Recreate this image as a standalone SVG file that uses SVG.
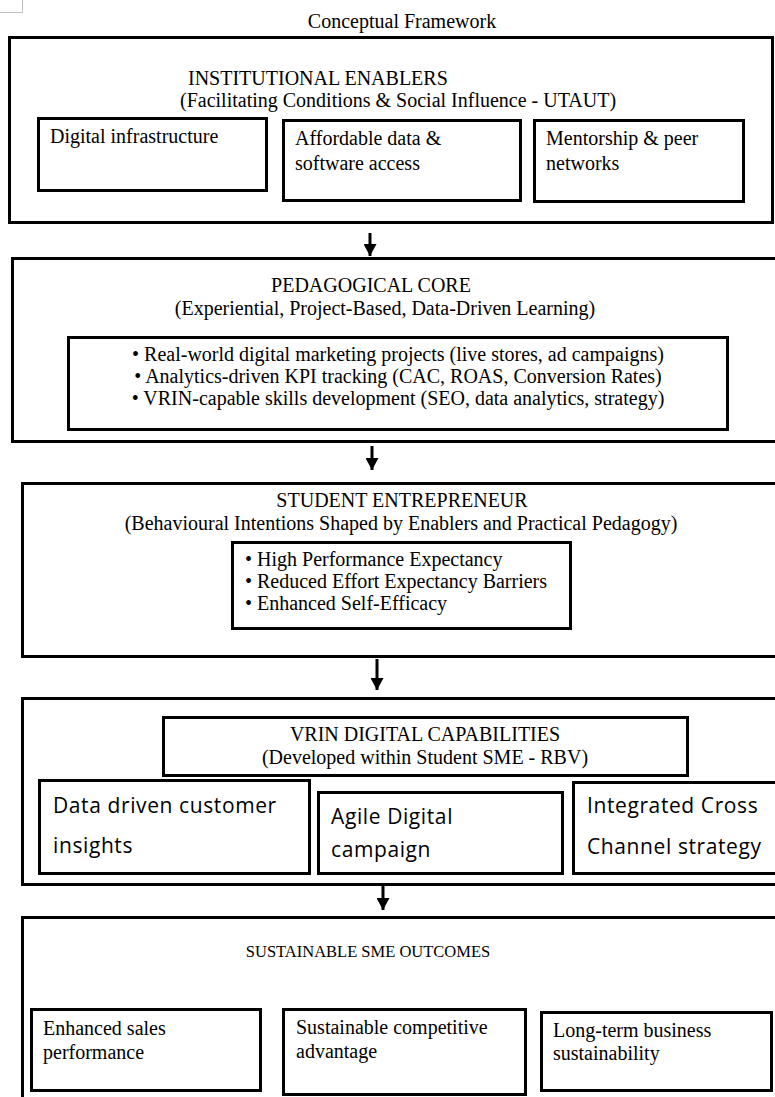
<svg xmlns="http://www.w3.org/2000/svg" width="775" height="1097" viewBox="0 0 775 1097">
  <defs>
    <style>
      .box { fill: #ffffff; stroke: #000000; stroke-width: 3; }
      .t { font-family: "Liberation Serif", "Times New Roman", serif; font-size: 20px; fill: #000000; }
      .tc { text-anchor: middle; }
      .small { font-size: 16.5px; }
      .hand { font-family: "Segoe Print", "Comic Sans MS", "Open Sans", sans-serif; font-size: 21px; letter-spacing: 0.6px; fill: #000000; }
      .conn { stroke: #000000; stroke-width: 3; fill: none; }
      .crop { stroke: #bdbdbd; stroke-width: 1; fill: none; }
    </style>
    <marker id="arrow" markerUnits="userSpaceOnUse" markerWidth="14" markerHeight="13" refX="12" refY="6.5" orient="auto">
      <path d="M0,0 L12,6.5 L0,13 Z" fill="#000000"/>
    </marker>
  </defs>

  <rect x="0" y="0" width="775" height="1097" fill="#ffffff"/>
  <path class="crop" d="M0,12.5 H22.5 V0"/>

  <g id="title">
    <text class="t tc" x="402" y="28">Conceptual Framework</text>
  </g>

  <!-- Institutional enablers -->
  <g id="node-institutional-enablers">
    <rect class="box" x="9.5" y="37.5" width="763" height="185"/>
    <text class="t" x="188" y="85">INSTITUTIONAL ENABLERS</text>
    <text class="t" x="180" y="107">(Facilitating Conditions &amp; Social Influence - UTAUT)</text>
  </g>
  <g id="node-digital-infrastructure">
    <rect class="box" x="38.5" y="118.5" width="228" height="72"/>
    <text class="t" x="50" y="143">Digital infrastructure</text>
  </g>
  <g id="node-affordable-data">
    <rect class="box" x="283.5" y="120.5" width="237" height="80"/>
    <text class="t" x="295" y="145">Affordable data &amp;</text>
    <text class="t" x="295" y="170">software access</text>
  </g>
  <g id="node-mentorship">
    <rect class="box" x="534.5" y="120.5" width="209" height="81"/>
    <text class="t" x="546" y="145">Mentorship &amp; peer</text>
    <text class="t" x="546" y="170">networks</text>
  </g>

  <!-- Pedagogical core -->
  <g id="node-pedagogical-core">
    <rect class="box" x="12.5" y="258.5" width="766" height="183"/>
    <text class="t tc" x="371" y="292">PEDAGOGICAL CORE</text>
    <text class="t tc" x="385" y="315">(Experiential, Project-Based, Data-Driven Learning)</text>
  </g>
  <g id="node-pedagogy-list">
    <rect class="box" x="68.5" y="337.5" width="659" height="92"/>
    <text class="t tc" x="398" y="361">• Real-world digital marketing projects (live stores, ad campaigns)</text>
    <text class="t tc" x="398" y="383">• Analytics-driven KPI tracking (CAC, ROAS, Conversion Rates)</text>
    <text class="t tc" x="398" y="405">• VRIN-capable skills development (SEO, data analytics, strategy)</text>
  </g>

  <!-- Student entrepreneur -->
  <g id="node-student-entrepreneur">
    <rect class="box" x="22.5" y="483.5" width="756" height="173"/>
    <text class="t tc" x="402" y="507">STUDENT ENTREPRENEUR</text>
    <text class="t tc" x="401" y="530">(Behavioural Intentions Shaped by Enablers and Practical Pedagogy)</text>
  </g>
  <g id="node-intentions-list">
    <rect class="box" x="232.5" y="542.5" width="338" height="86"/>
    <text class="t" x="245" y="566">• High Performance Expectancy</text>
    <text class="t" x="245" y="588">• Reduced Effort Expectancy Barriers</text>
    <text class="t" x="245" y="610">• Enhanced Self-Efficacy</text>
  </g>

  <!-- VRIN digital capabilities -->
  <g id="node-vrin-container">
    <rect class="box" x="22.5" y="698.5" width="756" height="186"/>
  </g>
  <g id="node-vrin-capabilities">
    <rect class="box" x="163.5" y="717.5" width="524" height="58"/>
    <text class="t tc" x="425" y="741">VRIN DIGITAL CAPABILITIES</text>
    <text class="t tc" x="425" y="764">(Developed within Student SME - RBV)</text>
  </g>
  <g id="node-data-driven-insights">
    <rect class="box" x="39.5" y="780.5" width="270" height="93"/>
    <text class="hand" x="53" y="813">Data driven customer</text>
    <text class="hand" x="53" y="853">insights</text>
  </g>
  <g id="node-agile-campaign">
    <rect class="box" x="318.5" y="792.5" width="244" height="81"/>
    <text class="hand" x="331" y="824">Agile Digital</text>
    <text class="hand" x="331" y="857">campaign</text>
  </g>
  <g id="node-cross-channel">
    <rect class="box" x="573.5" y="782.5" width="205" height="91"/>
    <text class="hand" x="587" y="813">Integrated Cross</text>
    <text class="hand" x="587" y="854">Channel strategy</text>
  </g>

  <!-- Sustainable SME outcomes -->
  <g id="node-sme-outcomes">
    <rect class="box" x="22.5" y="917.5" width="756" height="190"/>
    <text class="t small tc" x="368" y="957">SUSTAINABLE SME OUTCOMES</text>
  </g>
  <g id="node-sales-performance">
    <rect class="box" x="31.5" y="1009.5" width="229" height="81"/>
    <text class="t" x="43" y="1035">Enhanced sales</text>
    <text class="t" x="43" y="1059">performance</text>
  </g>
  <g id="node-competitive-advantage">
    <rect class="box" x="283.5" y="1009.5" width="242" height="85"/>
    <text class="t" x="296" y="1034">Sustainable competitive</text>
    <text class="t" x="296" y="1058">advantage</text>
  </g>
  <g id="node-business-sustainability">
    <rect class="box" x="541.5" y="1012.5" width="230" height="78"/>
    <text class="t" x="553" y="1037">Long-term business</text>
    <text class="t" x="553" y="1060">sustainability</text>
  </g>

  <!-- Connectors -->
  <g id="connectors">
    <line class="conn" x1="370" y1="233" x2="370" y2="256" marker-end="url(#arrow)"/>
    <line class="conn" x1="372" y1="446" x2="372" y2="470" marker-end="url(#arrow)"/>
    <line class="conn" x1="377" y1="659" x2="377" y2="690" marker-end="url(#arrow)"/>
    <line class="conn" x1="383" y1="886" x2="383" y2="910" marker-end="url(#arrow)"/>
  </g>
</svg>
